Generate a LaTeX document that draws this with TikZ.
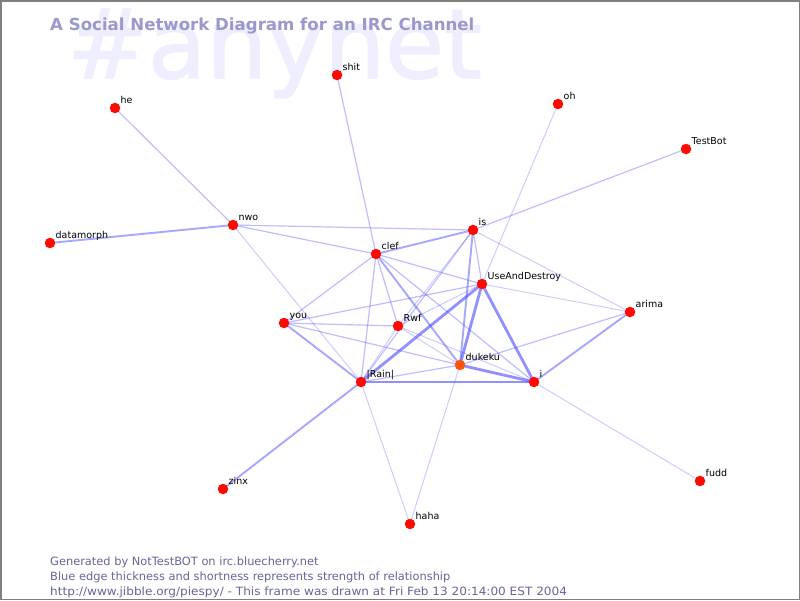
\documentclass[tikz,border=0pt]{standalone}
\usepackage{fontspec}
\setmainfont{DejaVu Sans}
\newfontfamily\chanfont[FakeBold=1.5]{DejaVu Sans}
\usetikzlibrary{backgrounds}
\definecolor{edgeblue}{RGB}{70,70,255}
\definecolor{titlecol}{RGB}{153,153,204}
\definecolor{footcol}{RGB}{102,102,153}
\definecolor{bgtext}{RGB}{238,238,255}
\definecolor{framegray}{RGB}{128,128,128}
\definecolor{usrred}{RGB}{255,10,0}
\definecolor{usrorange}{RGB}{255,85,10}
\tikzset{
  usr/.style={circle, fill=usrred, minimum size=10.5pt, inner sep=0pt},
  usrhot/.style={usr, fill=usrorange},
  lbl/.style={anchor=base west, inner sep=0pt, font=\fontsize{9.5}{11}\selectfont, text=black},
  ew0/.style={draw=edgeblue, draw opacity=0.27, line width=1pt},
  ew1/.style={draw=edgeblue, draw opacity=0.35, line width=1.2pt},
  ew2/.style={draw=edgeblue, draw opacity=0.47, line width=1.9pt},
  ew3/.style={draw=edgeblue, draw opacity=0.6, line width=2.8pt},
  foot/.style={anchor=base west, inner sep=0pt, text=footcol, font=\fontsize{11.4}{13}\selectfont},
}
\newcommand\usernode[5][usr]{%
  \node[#1] (#2) at (#3,#4) {};
  \path (#2.center) ++(5.5,-4.5) node[lbl] (#2-l) {#5};}
\begin{document}
\begin{tikzpicture}[x=1pt,y=-1pt]
\useasboundingbox (0,0) rectangle (800,600);
% users
\usernode{he}{115}{108}{he}
\usernode{shit}{337}{75}{shit}
\usernode{oh}{558}{104}{oh}
\usernode{testbot}{686}{149}{TestBot}
\usernode{datamorph}{50}{243}{datamorph}
\usernode{nwo}{233}{225}{nwo}
\usernode{is}{473}{230}{is}
\usernode{clef}{376}{254}{clef}
\usernode{uad}{482}{284}{UseAndDestroy}
\usernode{arima}{630}{312}{arima}
\usernode{you}{284}{323}{you}
\usernode{rwf}{398}{326}{Rwf}
\usernode[usrhot]{dukeku}{460}{365}{dukeku}
\usernode{rain}{361}{382}{|Rain|}
\usernode{i}{534}{382}{i}
\usernode{zinx}{223}{489}{zinx}
\usernode{haha}{410}{524}{haha}
\usernode{fudd}{700}{481}{fudd}
% title and footer
\node[anchor=base west, inner sep=0pt, text=titlecol, font=\fontsize{16.6}{19}\selectfont\bfseries] (title) at (50,30) {A Social Network Diagram for an IRC Channel};
\node[foot] (f1) at (50,565) {Generated by NotTestBOT on irc.bluecherry.net};
\node[foot] (f2) at (50,580) {Blue edge thickness and shortness represents strength of relationship};
\node[foot] (f3) at (50,595) {\scalebox{1.06}[1]{http://www.jibble.org/piespy/ - This frame was drawn at Fri Feb 13 20:14:00 EST 2004}};
\begin{pgfonlayer}{background}
\fill[white] (0,0) rectangle (800,600);
\node[anchor=base west, inner sep=0pt, text=bgtext, font=\fontsize{96}{100}\chanfont] (chan) at (67,78) {\#anynet};
% edges
\draw[ew1] (he.center) -- (nwo.center);
\draw[ew2] (datamorph.center) -- (nwo.center);
\draw[ew1] (shit.center) -- (clef.center);
\draw[ew0] (oh.center) -- (uad.center);
\draw[ew1] (testbot.center) -- (is.center);
\draw[ew0] (fudd.center) -- (i.center);
\draw[ew2] (zinx.center) -- (rain.center);
\draw[ew0] (haha.center) -- (rain.center);
\draw[ew0] (haha.center) -- (dukeku.center);
\draw[ew1] (nwo.center) -- (is.center);
\draw[ew1] (nwo.center) -- (clef.center);
\draw[ew0] (nwo.center) -- (rain.center);
\draw[ew2] (is.center) -- (clef.center);
\draw[ew1] (is.center) -- (uad.center);
\draw[ew2] (is.center) -- (dukeku.center);
\draw[ew1] (is.center) -- (rain.center);
\draw[ew0] (is.center) -- (rwf.center);
\draw[ew0] (is.center) -- (arima.center);
\draw[ew1] (clef.center) -- (uad.center);
\draw[ew1] (clef.center) -- (you.center);
\draw[ew1] (clef.center) -- (rwf.center);
\draw[ew1] (clef.center) -- (rain.center);
\draw[ew2] (clef.center) -- (dukeku.center);
\draw[ew1] (clef.center) -- (i.center);
\draw[ew1] (uad.center) -- (you.center);
\draw[ew0] (uad.center) -- (rwf.center);
\draw[ew3] (uad.center) -- (rain.center);
\draw[ew3] (uad.center) -- (dukeku.center);
\draw[ew3] (uad.center) -- (i.center);
\draw[ew0] (uad.center) -- (arima.center);
\draw[ew1] (arima.center) -- (dukeku.center);
\draw[ew2] (arima.center) -- (i.center);
\draw[ew1] (you.center) -- (rwf.center);
\draw[ew1] (you.center) -- (dukeku.center);
\draw[ew2] (you.center) -- (rain.center);
\draw[ew0] (rwf.center) -- (rain.center);
\draw[ew0] (rwf.center) -- (dukeku.center);
\draw[ew0] (rwf.center) -- (i.center);
\draw[ew1] (rain.center) -- (dukeku.center);
\draw[ew3] (rain.center) -- (i.center);
\draw[ew3] (dukeku.center) -- (i.center);
\end{pgfonlayer}
\draw[framegray, line width=1.5pt] (0.75,0.75) rectangle (799.25,599.25);
\end{tikzpicture}
\end{document}
